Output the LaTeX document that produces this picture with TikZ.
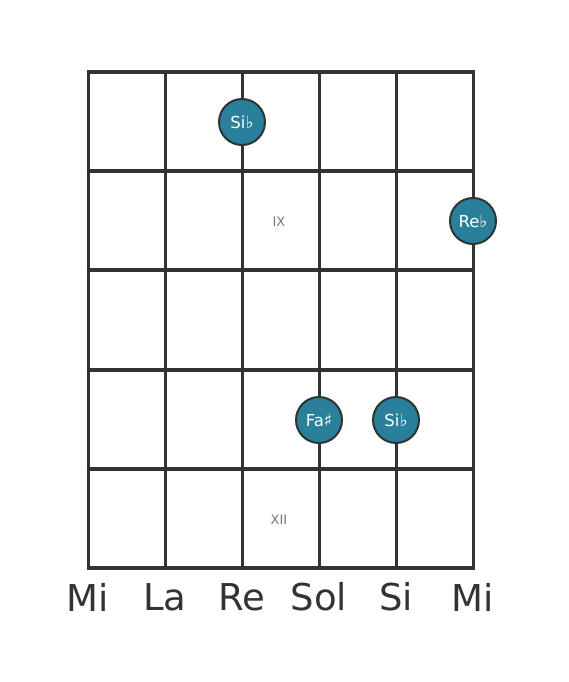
\documentclass[tikz,border=0pt]{standalone}
\usepackage{fontspec}
\setmainfont{DejaVu Sans}
\definecolor{ink}{HTML}{333333}
\definecolor{dot}{HTML}{2A7F9B}
\definecolor{dotline}{HTML}{2E3436}
\definecolor{fretno}{HTML}{777777}
\newcommand{\acc}[1]{{\fontsize{17}{17}\selectfont #1}}
\begin{document}
\begin{tikzpicture}[x=1pt,y=-1pt,
  fretline/.style={draw=ink,line width=4.5pt},
  stringline/.style={draw=ink,line width=3pt},
  notedot/.style={circle,fill=dot,draw=dotline,line width=2pt,minimum size=46pt,inner sep=0pt,text=white,font=\fontsize{16.5}{16.5}\selectfont},
  strlabel/.style={text=ink,font=\fontsize{37}{37}\selectfont,anchor=center},
  fretlabel/.style={text=fretno,font=\fontsize{13}{13}\selectfont}]
\useasboundingbox (0,0) rectangle (568,682);
% strings
\foreach \i/\x in {1/88,2/165,3/242,4/319,5/396,6/473}{
  \coordinate (s\i t) at (\x,72);
  \coordinate (s\i b) at (\x,568);
  \draw[stringline] (s\i t) -- (s\i b);
}
% frets
\foreach \j/\y in {0/72,1/171,2/270,3/370,4/469,5/568}{
  \coordinate (f\j l) at (86.5,\y);
  \coordinate (f\j r) at (474.5,\y);
  \draw[fretline] (f\j l) -- (f\j r);
}
\node[fretlabel] (ix) at (279,222) {IX};
\node[fretlabel] (xii) at (279,520) {XII};
\node[notedot] (n1) at (242,122) {Si\acc{♭}};
\node[notedot] (n2) at (473,221) {Re\acc{♭}};
\node[notedot] (n3) at (319,420) {Fa\acc{♯}};
\node[notedot] (n4) at (396,420) {Si\acc{♭}};
\node[strlabel] (l1) at (88,597) {Mi};
\node[strlabel] (l2) at (165,597) {La};
\node[strlabel] (l3) at (242,597) {Re};
\node[strlabel] (l4) at (319,597) {Sol};
\node[strlabel] (l5) at (396,597) {Si};
\node[strlabel] (l6) at (473,597) {Mi};
\end{tikzpicture}
\end{document}
